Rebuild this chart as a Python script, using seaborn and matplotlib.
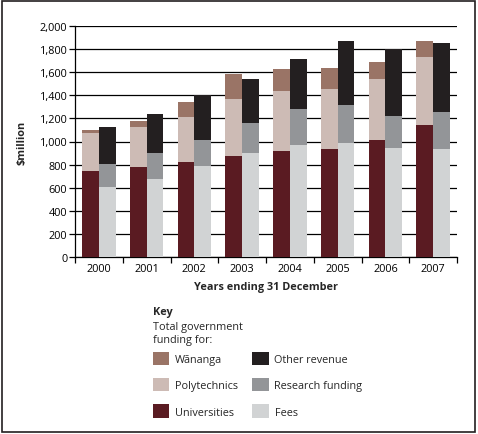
import matplotlib
matplotlib.use("Agg")
import matplotlib.pyplot as plt
import matplotlib.ticker as mticker
from matplotlib.patches import Patch, Rectangle
import numpy as np
import pandas as pd
import seaborn as sns

# Values ($million)
years = ["2000", "2001", "2002", "2003", "2004", "2005", "2006", "2007"]
universities = [747, 782, 825, 877, 921, 938, 1016, 1146]
polytechnics = [329, 346, 390, 494, 519, 519, 528, 588]
wananga = [26, 52, 130, 216, 191, 182, 147, 139]
fees = [609, 678, 791, 903, 973, 990, 947, 938]
research = [199, 225, 225, 260, 311, 329, 277, 320]
other = [320, 338, 387, 381, 433, 554, 580, 598]

colors = {
    "Universities": "#5a1b22",
    "Polytechnics": "#cdbbb5",
    "Wānanga": "#9a7466",
    "Fees": "#d1d3d4",
    "Research funding": "#939598",
    "Other revenue": "#231f20",
}

sns.set_theme(style="white")
plt.rcParams["font.family"] = ["Open Sans", "DejaVu Sans"]
plt.rcParams["font.size"] = 7.8
fs = 7.8

# cumulative layers for the two stacked bars per year
left_cum = np.cumsum([universities, polytechnics, wananga], axis=0)
right_cum = np.cumsum([fees, research, other], axis=0)
left_names = ["Universities", "Polytechnics", "Wānanga"]
right_names = ["Fees", "Research funding", "Other revenue"]

fig = plt.figure(figsize=(4.78, 4.35), dpi=100)
ax = fig.add_axes([75 / 478, 1 - 258 / 435, 382 / 478, 231 / 435])

# draw from the top layer down so the lower layers cover the upper ones
for i in [2, 1, 0]:
    df = pd.DataFrame({
        "year": years + years,
        "side": ["a"] * len(years) + ["b"] * len(years),
        "value": list(left_cum[i]) + list(right_cum[i]),
    })
    sns.barplot(data=df, x="year", y="value", hue="side", order=years,
                hue_order=["a", "b"],
                palette={"a": colors[left_names[i]], "b": colors[right_names[i]]},
                width=0.7, saturation=1, linewidth=0, legend=False,
                zorder=3, ax=ax)

ax.set_xlim(-0.5, len(years) - 0.5)
ax.set_ylim(0, 2000)
ax.yaxis.set_major_locator(mticker.MultipleLocator(200))
ax.yaxis.set_major_formatter(mticker.FuncFormatter(lambda v, p: f"{int(v):,}"))
ax.grid(axis="y", color="black", linewidth=0.9, zorder=0)
ax.set_axisbelow(True)

for s in ["top", "right"]:
    ax.spines[s].set_visible(False)
for s in ["left", "bottom"]:
    ax.spines[s].set_color("black")
    ax.spines[s].set_linewidth(0.9)

ax.xaxis.set_minor_locator(mticker.FixedLocator(np.arange(-0.5, len(years), 1.0)))
ax.tick_params(axis="x", which="major", length=0, pad=4, labelsize=fs, colors="black")
ax.tick_params(axis="x", which="minor", bottom=True, length=4, width=0.9,
               direction="out", color="black")
ax.tick_params(axis="y", which="major", left=True, length=4.5, width=0.9,
               direction="out", pad=1, labelsize=fs, color="black", labelcolor="black")

ax.set_xlabel("Years ending 31 December", fontsize=fs, fontweight="bold")
ax.xaxis.set_label_coords(0.5, -0.105)
ax.set_ylabel("$million", fontsize=fs, fontweight="bold")
ax.yaxis.set_label_coords(-0.125, 0.5)

# key
fig.text(153 / 478, 1 - 313 / 435, "Key", fontsize=fs, fontweight="bold",
         va="center", ha="left")
fig.text(153 / 478, 1 - 334 / 435, "Total government\nfunding for:",
         fontsize=fs, va="center", ha="left", linespacing=1.25)

legend_order = ["Wānanga", "Polytechnics", "Universities",
                "Other revenue", "Research funding", "Fees"]
handles = [Patch(facecolor=colors[n], edgecolor="none", label=n) for n in legend_order]
fig.legend(handles=handles, ncol=2, loc="upper left",
           bbox_to_anchor=(153 / 478, 1 - 353 / 435), frameon=False,
           fontsize=fs, handlelength=1.5, handleheight=1.5,
           handletextpad=0.55, labelspacing=1.2, columnspacing=1.3,
           borderaxespad=0, borderpad=0)

# outer frame
fig.patches.append(Rectangle((2 / 478, 2 / 435), 473 / 478, 431 / 435,
                             transform=fig.transFigure, fill=False,
                             edgecolor="#231f20", linewidth=1.2))

fig.savefig("out.png", dpi=100)
